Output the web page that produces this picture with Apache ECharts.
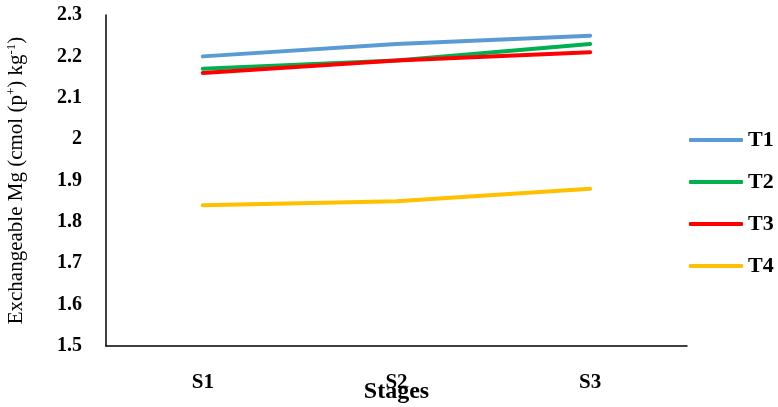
<!DOCTYPE html>
<html><head><meta charset="utf-8">
<script src="https://cdn.jsdelivr.net/npm/echarts@6/dist/echarts.min.js"></script>
<style>html,body{margin:0;padding:0;background:#fff}#c{width:778px;height:407px}</style>
</head><body><div id="c"></div>
<script>
const categories = ['S1', 'S2', 'S3'];
const seriesNames = ['T1', 'T2', 'T3', 'T4'];
const T1 = [2.20, 2.23, 2.25];
const T2 = [2.17, 2.19, 2.23];
const T3 = [2.16, 2.19, 2.21];
const T4 = [1.84, 1.85, 1.88];
const colors = ['#5B9BD5', '#00B050', '#FF0000', '#FFC000'];
const values = [T1, T2, T3, T4];

const chart = echarts.init(document.getElementById('c'));
const font = 'Liberation Serif';
chart.setOption({
  animation: false,
  grid: { left: 106, right: 91, top: 15, bottom: 61, containLabel: false, outerBoundsMode: 'none' },
  legend: {
    orient: 'vertical', left: 689, top: 129, padding: 0,
    itemWidth: 54, itemHeight: 4, itemGap: 20, icon: 'roundRect',
    textStyle: { fontFamily: font, fontWeight: 'bold', fontSize: 22, color: '#000' },
    data: seriesNames
  },
  xAxis: {
    type: 'category', data: categories, boundaryGap: true,
    name: 'Stages', nameLocation: 'middle', nameGap: 34, nameMoveOverlap: false,
    nameTextStyle: { fontFamily: font, fontWeight: 'bold', fontSize: 24, color: '#000' },
    axisLine: { lineStyle: { color: '#000', width: 1.5 } },
    axisTick: { show: false },
    axisLabel: { fontFamily: font, fontWeight: 'bold', fontSize: 21, color: '#000', margin: 26 }
  },
  yAxis: {
    type: 'value', min: 1.5, max: 2.3, interval: 0.1,
    name: '{n|Exchangeable Mg (cmol (p}{s|+}{n|) kg}{s|-1}{n|)}', nameLocation: 'middle', nameGap: 78, nameRotate: 90,
    nameMoveOverlap: false,
    nameTextStyle: { rich: {
      n: { fontFamily: font, fontSize: 21, color: '#000' },
      s: { fontFamily: font, fontSize: 13, color: '#000', verticalAlign: 'top', padding: [0,0,10,0] }
    } },
    axisLine: { show: true, lineStyle: { color: '#000', width: 1.5 } },
    axisTick: { show: false },
    splitLine: { show: false },
    axisLabel: { fontFamily: font, fontWeight: 'bold', fontSize: 20, color: '#000', margin: 24,
      formatter: v => String(+v.toFixed(1)) }
  },
  series: seriesNames.map((n, i) => ({
    name: n, type: 'line', data: values[i], symbol: 'none',
    lineStyle: { color: colors[i], width: 4, cap: 'round' },
    itemStyle: { color: colors[i] }
  }))
});
</script></body></html>
